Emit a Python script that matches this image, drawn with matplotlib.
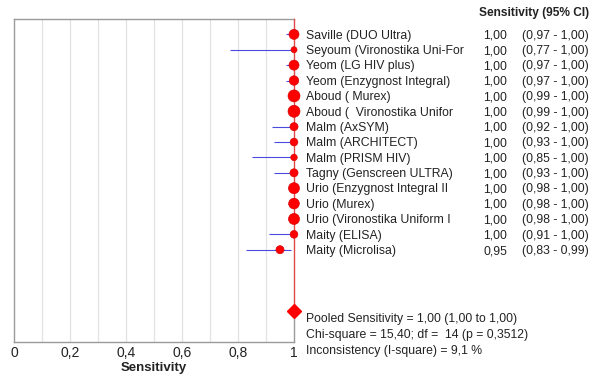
import numpy as np
import matplotlib.pyplot as plt
import matplotlib.transforms as mtransforms

plt.rcParams['font.family'] = ['Liberation Sans', 'DejaVu Sans']

studies = ['Saville (DUO Ultra)', 'Seyoum (Vironostika Uni-For', 'Yeom (LG HIV plus)',
           'Yeom (Enzygnost Integral)', 'Aboud ( Murex)', 'Aboud (  Vironostika Unifor',
           'Malm (AxSYM)', 'Malm (ARCHITECT)', 'Malm (PRISM HIV)', 'Tagny (Genscreen ULTRA)',
           'Urio (Enzygnost Integral II', 'Urio (Murex)', 'Urio (Vironostika Uniform I',
           'Maity (ELISA)', 'Maity (Microlisa)']
sens = [1.00, 1.00, 1.00, 1.00, 1.00, 1.00, 1.00, 1.00, 1.00, 1.00, 1.00, 1.00, 1.00, 1.00, 0.95]
ci_low = [0.97, 0.77, 0.97, 0.97, 0.99, 0.99, 0.92, 0.93, 0.85, 0.93, 0.98, 0.98, 0.98, 0.91, 0.83]
ci_high = [1.00, 1.00, 1.00, 1.00, 1.00, 1.00, 1.00, 1.00, 1.00, 1.00, 1.00, 1.00, 1.00, 1.00, 0.99]
weights = [7.0, 2.6, 7.0, 6.3, 10.0, 10.0, 4.6, 4.2, 3.0, 4.6, 8.5, 8.0, 8.5, 4.2, 4.6]
pooled = 1.00
stats_lines = ['Pooled Sensitivity = 1,00 (1,00 to 1,00)',
               'Chi-square = 15,40; df =  14 (p = 0,3512)',
               'Inconsistency (I-square) = 9,1 %']
xticks = [0, 0.2, 0.4, 0.6, 0.8, 1.0]
xticklabels = ['0', '0,2', '0,4', '0,6', '0,8', '1']


def fmt(v):
    return f'{v:.2f}'.replace('.', ',')


fig = plt.figure(figsize=(5.92, 3.79), dpi=100)
ax = fig.add_axes([14 / 592, 1 - 342 / 379, 280 / 592, 323 / 379])

rows = np.arange(1, len(studies) + 1)
pooled_row = 19

# grid
for g in np.arange(0.1, 1.0, 0.1):
    ax.axvline(g, color='#e2e2e2', lw=0.9, zorder=0)

# CI lines and points
ax.hlines(rows, ci_low, ci_high, color='#4a4ae0', lw=0.8, zorder=2)
ax.axvline(pooled, ymin=(21 - pooled_row) / 21, ymax=1, color='#e04848', lw=1.0, zorder=3, clip_on=False)
ax.axvline(pooled, ymin=0, ymax=(21 - pooled_row) / 21, color='#9a9a9a', lw=1.0, zorder=3, clip_on=False)
ax.scatter(sens, rows, s=np.array(weights) * 7.5, color='#ff0000', edgecolor='#d00000',
           lw=0.4, zorder=4, clip_on=False)
ax.plot([pooled], [pooled_row], marker='D', ms=7, color='#ff0000', zorder=5, clip_on=False)

ax.set_xlim(0, 1)
ax.set_ylim(21, 0)
ax.set_yticks([])
ax.set_xticks(xticks)
ax.set_xticklabels(xticklabels, fontsize=10, color='#222222')
ax.tick_params(axis='x', length=0, pad=3)
ax.spines['right'].set_visible(False)
for sp in ax.spines.values():
    sp.set_color('#9a9a9a')
    sp.set_linewidth(1.0)
ax.set_xlabel('Sensitivity', fontsize=9.5, fontweight='bold', labelpad=1, color='#222222')

# right-side text table
trans = mtransforms.blended_transform_factory(fig.transFigure, ax.transData)
fs = 8.8
off = 0.28
for r, name, s, lo, hi in zip(rows, studies, sens, ci_low, ci_high):
    ax.text(306 / 592, r + off, name, transform=trans, fontsize=fs, va='baseline', ha='left', color='#222222')
    ax.text(507 / 592, r + off, fmt(s), transform=trans, fontsize=fs, va='baseline', ha='right', color='#222222')
    ax.text(589 / 592, r + off, f'({fmt(lo)} - {fmt(hi)})', transform=trans, fontsize=fs,
            va='baseline', ha='right', color='#222222')

fig.text(589 / 592, 1 - 16 / 379, 'Sensitivity (95% CI)', fontsize=8.6, fontweight='bold',
         ha='right', va='baseline', color='#222222')

for i, line in enumerate(stats_lines):
    ax.text(306 / 592, 19.39 + off + i * 1.07, line, transform=trans, fontsize=fs,
            va='baseline', ha='left', color='#222222', clip_on=False)

fig.savefig('out.png', dpi=100)
